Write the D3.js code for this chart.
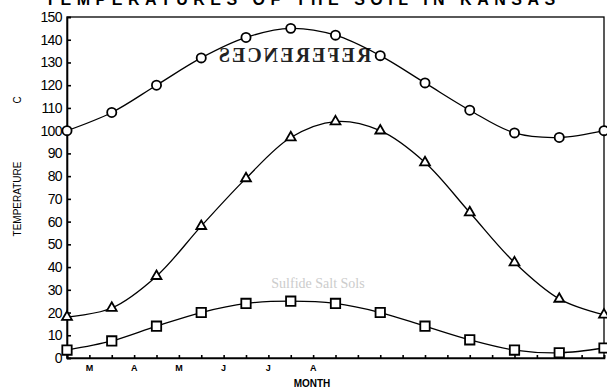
<!DOCTYPE html>
<html>
<head>
<meta charset="utf-8">
<script src="https://cdn.jsdelivr.net/npm/d3@7"></script>
<style>
  body { margin: 0; background: #fff; }
  svg { display: block; }
  .axis path, .axis line { stroke: #000; stroke-width: 1.6; }
  .axis text { font-family: "Liberation Sans", Arial, sans-serif; fill: #000; }
</style>
</head>
<body>
<svg id="chart" width="607" height="392"></svg>
<script>
// month index 0..12
var points = d3.range(0, 13);
var circleSeries = [100, 108, 120, 132, 141, 145, 142, 133, 121, 109, 99, 97, 100];
var triangleSeries = [18, 22, 36, 58, 79, 97, 104, 100, 86, 64, 42, 26, 19];
var squareSeries = [3.5, 7.5, 14, 20, 24, 25, 24, 20, 14, 8, 3.5, 2.3, 4.4];
var monthLabels = ["M", "A", "M", "J", "J", "A"];
var yTicks = d3.range(0, 151, 10);

var svg = d3.select("#chart");
var margin = { top: 17, right: 3, bottom: 34, left: 67 };
var width = +svg.attr("width"), height = +svg.attr("height");

var x = d3.scaleLinear().domain([0, 12]).range([margin.left, width - margin.right]);
var y = d3.scaleLinear().domain([0, 150]).range([height - margin.bottom, margin.top]);

// title, only its lower half survives at the top edge of the scan
svg.append("text")
  .attr("x", 303).attr("y", 5)
  .attr("text-anchor", "middle")
  .attr("font-family", "Liberation Sans, Arial, sans-serif")
  .attr("font-weight", "bold")
  .attr("font-size", 16)
  .attr("letter-spacing", 5.5)
  .text("TEMPERATURES OF  THE  SOIL  IN  KANSAS");

// frame
svg.append("rect")
  .attr("x", x(0)).attr("y", y(150))
  .attr("width", x(12) - x(0)).attr("height", y(0) - y(150))
  .attr("fill", "none").attr("stroke", "#000").attr("stroke-width", 1.3);

// y axis
var yAxis = svg.append("g")
  .attr("class", "axis")
  .attr("transform", "translate(" + x(0) + ",0)")
  .call(d3.axisLeft(y).tickValues(yTicks).tickSize(-4).tickPadding(5));
yAxis.selectAll("text").attr("font-size", 14).attr("letter-spacing", -0.6);
yAxis.select(".domain").attr("stroke-width", 2);

// x axis
var xAxis = svg.append("g")
  .attr("class", "axis")
  .attr("transform", "translate(0," + y(0) + ")")
  .call(d3.axisBottom(x).tickValues(d3.range(0, 12.01, 0.5)).tickSize(-3).tickFormat(""));
xAxis.select(".domain").attr("stroke-width", 2);

svg.selectAll(".month")
  .data(monthLabels)
  .enter().append("text")
  .attr("class", "month")
  .attr("x", function (d, i) { return x(i + 0.5); })
  .attr("y", y(0) + 13)
  .attr("text-anchor", "middle")
  .attr("font-family", "Liberation Sans, Arial, sans-serif")
  .attr("font-weight", "bold")
  .attr("font-size", 9)
  .text(function (d) { return d; });

svg.append("text")
  .attr("x", 312).attr("y", 387)
  .attr("text-anchor", "middle")
  .attr("font-family", "Liberation Sans Narrow, Liberation Sans, Arial, sans-serif")
  .attr("font-weight", "bold")
  .attr("font-size", 10)
  .text("MONTH");

svg.append("text")
  .attr("transform", "translate(21,199) rotate(-90)")
  .attr("text-anchor", "middle")
  .attr("font-family", "Liberation Sans Narrow, Liberation Sans, Arial, sans-serif")
  .attr("font-size", 10)
  .text("TEMPERATURE");
svg.append("text")
  .attr("transform", "translate(21,100) rotate(-90)")
  .attr("text-anchor", "middle")
  .attr("font-family", "Liberation Sans, Arial, sans-serif")
  .attr("font-size", 10)
  .text("C");

// bleed-through from the back of the page
svg.append("text")
  .attr("transform", "translate(294,62) scale(-1,1)")
  .attr("text-anchor", "middle")
  .attr("font-family", "Liberation Serif, serif")
  .attr("font-weight", "bold")
  .attr("font-size", 20)
  .attr("letter-spacing", 2)
  .attr("fill", "#222")
  .text("REFERENCES");
svg.append("text")
  .attr("x", 318).attr("y", 288)
  .attr("text-anchor", "middle")
  .attr("font-family", "Liberation Serif, serif")
  .attr("font-size", 14)
  .attr("fill", "#ccc")
  .text("Sulfide Salt Sols");

var line = d3.line()
  .x(function (d, i) { return x(points[i]); })
  .y(function (d) { return y(d); })
  .curve(d3.curveCatmullRom.alpha(0.5));

var series = [
  { values: circleSeries, symbol: d3.symbolCircle, size: 66 },
  { values: triangleSeries, symbol: d3.symbolTriangle, size: 42 },
  { values: squareSeries, symbol: d3.symbolSquare, size: 88 }
];

series.forEach(function (s) {
  svg.append("path")
    .datum(s.values)
    .attr("fill", "none")
    .attr("stroke", "#000")
    .attr("stroke-width", 1.3)
    .attr("d", line);

  svg.selectAll(null)
    .data(s.values)
    .enter().append("path")
    .attr("transform", function (d, i) { return "translate(" + x(points[i]) + "," + y(d) + ")"; })
    .attr("d", d3.symbol().type(s.symbol).size(s.size))
    .attr("fill", "#fff")
    .attr("stroke", "#000")
    .attr("stroke-width", 1.8);
});
</script>
</body>
</html>
